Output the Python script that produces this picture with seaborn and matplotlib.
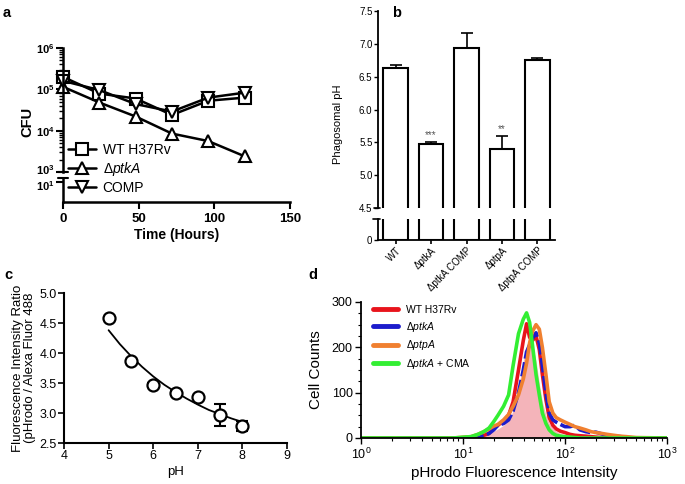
import matplotlib
matplotlib.use('Agg')
import matplotlib.pyplot as plt
import matplotlib.transforms as mtransforms
import seaborn as sns
import numpy as np
from matplotlib.ticker import LogLocator, MultipleLocator, NullFormatter, NullLocator

sns.set_theme(style='ticks')
plt.rcParams['font.family'] = ['Liberation Sans', 'DejaVu Sans']
plt.rcParams['mathtext.fontset'] = 'custom'
plt.rcParams['mathtext.rm'] = 'Liberation Sans'
plt.rcParams['mathtext.it'] = 'Liberation Sans:italic'
plt.rcParams['mathtext.bf'] = 'Liberation Sans:bold'
for k in ['text.color', 'axes.labelcolor', 'xtick.color', 'ytick.color', 'axes.edgecolor']:
    plt.rcParams[k] = 'black'

# ---- panel a: CFU over time
hours = [0, 24, 48, 72, 96, 120]
cfu_wt = [2.0e5, 7.9e4, 6.0e4, 2.4e4, 5.3e4, 6.3e4]
cfu_ptka = [1.15e5, 4.8e4, 2.2e4, 8.5e3, 5.6e3, 2.4e3]
cfu_comp = [1.6e5, 9.6e4, 4.4e4, 2.9e4, 6.3e4, 8.3e4]

# ---- panel b: phagosomal pH
strains = ['WT', 'ΔptkA', 'ΔptkA COMP', 'ΔptpA', 'ΔptpA COMP']
ph_mean = [6.63, 5.47, 6.93, 5.40, 6.75]
ph_sem = [0.05, 0.03, 0.23, 0.20, 0.03]

# ---- panel c: calibration points and fitted curve
ph_std = [5, 5.5, 6, 6.5, 7, 7.5, 8]
ratio = [4.58, 3.87, 3.47, 3.33, 3.26, 2.97, 2.78]
ratio_err = [0.02, 0.02, 0.03, 0.03, 0.03, 0.18, 0.08]
fit_ph = [5, 5.25, 5.5, 5.75, 6, 6.25, 6.5, 6.75, 7, 7.25, 7.5, 7.75, 8]
fit_ratio = [4.38, 4.15, 3.95, 3.77, 3.61, 3.47, 3.35, 3.24, 3.14, 3.05, 2.98, 2.91, 2.85]

# ---- panel d: flow histograms
intensity = [1, 8, 12, 14, 16, 18, 20, 22, 25, 28,
             31, 35, 39, 42, 45, 48, 52, 56, 60, 65,
             70, 76, 82, 90, 100, 112, 125, 140, 160, 180,
             200, 230, 260, 300, 350, 400, 500, 1000]
cnt_wt = [0, 0, 1, 3, 6, 10, 22, 28, 38, 50,
          80, 150, 215, 252, 222, 215, 225, 195, 140, 85,
          45, 28, 20, 15, 12, 8, 6, 5, 4, 3,
          2, 1, 1, 0, 0, 0, 0, 0]
cnt_ptka = [0, 0, 0, 2, 5, 10, 18, 28, 32, 40,
            60, 100, 150, 190, 205, 220, 232, 210, 160, 100,
            55, 40, 35, 30, 25, 25, 28, 18, 14, 12,
            13, 9, 5, 4, 3, 1, 0, 0]
cnt_ptpa = [0, 0, 3, 8, 14, 20, 26, 30, 40, 52,
            70, 95, 130, 165, 210, 235, 250, 240, 200, 140,
            80, 55, 45, 40, 35, 30, 25, 22, 18, 14,
            12, 10, 8, 6, 4, 3, 1, 0]
cnt_cma = [0, 0, 3, 8, 14, 22, 36, 50, 70, 95,
           160, 230, 262, 276, 255, 205, 140, 95, 55, 32,
           18, 10, 6, 4, 3, 2, 1, 0, 0, 0,
           0, 0, 0, 0, 0, 0, 0, 0]
cnt_fill = [0, 0, 0, 3, 6, 10, 15, 20, 28, 40,
            60, 110, 170, 205, 220, 205, 170, 120, 80, 50,
            32, 22, 15, 10, 7, 5, 3, 2, 1, 0,
            0, 0, 0, 0, 0, 0, 0, 0]

W, H = 685, 484
fig = plt.figure(figsize=(W / 100, H / 100), dpi=100)


def box(l, t, r, b):
    return [l / W, 1 - b / H, (r - l) / W, (b - t) / H]


def nudge(label, dy_px):
    label.set_transform(label.get_transform() +
                        mtransforms.ScaledTranslation(0, dy_px / 100, fig.dpi_scale_trans))


# ================= panel a =================
ax_a = fig.add_axes(box(63, 48, 290, 172))
ax_a2 = fig.add_axes(box(63, 178, 290, 202))
for y, mk, lab in [(cfu_wt, 's', 'WT H37Rv'),
                   (cfu_ptka, '^', r'Δ$\mathit{ptkA}$'),
                   (cfu_comp, 'v', 'COMP')]:
    sns.lineplot(x=hours, y=y, ax=ax_a, color='black', lw=1.8, marker=mk,
                 markersize=8, markerfacecolor='white', markeredgecolor='black',
                 markeredgewidth=1.5, label=lab, clip_on=False)
handles, labels = ax_a.get_legend_handles_labels()
ax_a.get_legend().remove()

ax_a.set_yscale('log')
ax_a.set_ylim(1e3, 1e6)
ax_a.set_xlim(0, 150)
ax_a.set_yticks([1e3, 1e4, 1e5, 1e6])
ax_a.set_yticklabels([r'$\mathbf{10^{3}}$', r'$\mathbf{10^{4}}$',
                      r'$\mathbf{10^{5}}$', r'$\mathbf{10^{6}}$'], fontsize=8)
ax_a.yaxis.set_minor_locator(LogLocator(base=10, subs=np.arange(2, 10)))
ax_a.yaxis.set_minor_formatter(NullFormatter())
for s in ['top', 'right', 'bottom']:
    ax_a.spines[s].set_visible(False)
ax_a.spines['left'].set_linewidth(1.8)
ax_a.tick_params(axis='x', bottom=False, labelbottom=False)
ax_a.tick_params(axis='y', which='major', width=1.5, length=5, pad=1)
ax_a.tick_params(axis='y', which='minor', width=1, length=3)
ax_a.set_xlabel('')
ax_a.plot([-0.02, 0.02], [0, 0], transform=ax_a.transAxes, color='black',
          lw=1.5, clip_on=False)
nudge(ax_a.get_yticklabels()[0], 3)

ax_a2.set_yscale('log')
ax_a2.set_ylim(1, 16)
ax_a2.set_yticks([10])
ax_a2.set_yticklabels([r'$\mathbf{10^{1}}$'], fontsize=8)
ax_a2.yaxis.set_minor_locator(NullLocator())
ax_a2.set_xlim(0, 150)
ax_a2.set_xticks([0, 50, 100, 150])
ax_a2.set_xticklabels(['0', '50', '100', '150'], fontsize=9.5, fontweight='bold')
for s in ['top', 'right']:
    ax_a2.spines[s].set_visible(False)
ax_a2.spines['left'].set_linewidth(1.8)
ax_a2.spines['bottom'].set_linewidth(1.8)
ax_a2.tick_params(width=1.5, length=5, pad=1)
ax_a2.tick_params(axis='x', pad=3)
ax_a2.plot([-0.02, 0.02], [1, 1], transform=ax_a2.transAxes, color='black',
           lw=1.5, clip_on=False)
nudge(ax_a2.get_yticklabels()[0], -3)
ax_a2.set_xlabel('Time (Hours)', fontsize=10, fontweight='bold', labelpad=2)
ax_a2.patch.set_alpha(0)
fig.text(27 / W, 1 - 122 / H, 'CFU', rotation=90, fontsize=10.5,
         fontweight='bold', ha='center', va='center')
fig.legend(handles, labels, loc='upper left', bbox_to_anchor=(68 / W, 1 - 143 / H),
           frameon=False, fontsize=10, handlelength=2.0, handletextpad=0.5,
           labelspacing=0.2, borderpad=0, borderaxespad=0)

# ================= panel b =================
ax_b = fig.add_axes(box(378, 11, 555, 208))
ax_b2 = fig.add_axes(box(378, 219, 555, 240))
for ax in (ax_b, ax_b2):
    sns.barplot(x=strains, y=ph_mean, ax=ax, color='white', saturation=1,
                edgecolor='black', linewidth=1.5, width=0.7, errorbar=None)
    ax.set_xlim(-0.5, 4.5)
    for s in ['top', 'right']:
        ax.spines[s].set_visible(False)
    ax.spines['left'].set_linewidth(1.3)
    ax.spines['bottom'].set_linewidth(1.3)
    ax.set_ylabel('')
ax_b.errorbar(range(len(strains)), ph_mean, yerr=[np.zeros(len(ph_sem)), ph_sem],
              fmt='none', ecolor='black', elinewidth=1.2, capsize=4, capthick=1.2)
ax_b.set_ylim(4.5, 7.5)
ax_b.set_yticks([4.5, 5.0, 5.5, 6.0, 6.5, 7.0, 7.5])
ax_b.set_yticklabels(['4.5', '5.0', '5.5', '6.0', '6.5', '7.0', '7.5'], fontsize=7)
ax_b.spines['bottom'].set_visible(False)
ax_b.tick_params(axis='x', bottom=False, labelbottom=False)
ax_b.tick_params(axis='y', length=3, width=1, pad=1)
ax_b.plot([-0.02, 0.01], [0, 0], transform=ax_b.transAxes, color='black',
          lw=1.2, clip_on=False)
ax_b.text(1, ph_mean[1] + ph_sem[1] + 0.03, '***', ha='center', va='bottom',
          fontsize=7, color='#555555')
ax_b.text(3, ph_mean[3] + ph_sem[3] + 0.03, '**', ha='center', va='bottom',
          fontsize=7, color='#555555')

ax_b2.set_ylim(0, 1)
ax_b2.set_yticks([0])
ax_b2.set_yticklabels(['0'], fontsize=7)
ax_b2.tick_params(axis='y', length=3, width=1, pad=1)
ax_b2.tick_params(axis='x', length=3, width=1.2, pad=1)
ax_b2.set_xticks(range(len(strains)))
ax_b2.set_xticklabels(strains, rotation=45, ha='right', rotation_mode='anchor',
                      fontsize=7)
ax_b2.plot([-0.03, 0.01], [1, 1], transform=ax_b2.transAxes, color='black',
           lw=1.2, clip_on=False)
fig.text(338 / W, 1 - 124 / H, 'Phagosomal pH', rotation=90, fontsize=8,
         ha='center', va='center')

# ================= panel c =================
ax_c = fig.add_axes(box(64, 293, 287, 443))
sns.lineplot(x=fit_ph, y=fit_ratio, ax=ax_c, color='black', lw=1.3)
ax_c.errorbar(ph_std, ratio, yerr=ratio_err, fmt='none', ecolor='black',
              elinewidth=1.5, capsize=4, capthick=1.5)
sns.scatterplot(x=ph_std, y=ratio, ax=ax_c, marker='o', s=75, facecolor='white',
                edgecolor='black', linewidth=1.6, zorder=3)
ax_c.set_xlim(4, 9)
ax_c.set_ylim(2.5, 5.0)
ax_c.set_xticks([4, 5, 6, 7, 8, 9])
ax_c.set_yticks([2.5, 3.0, 3.5, 4.0, 4.5, 5.0])
ax_c.set_yticklabels(['2.5', '3.0', '3.5', '4.0', '4.5', '5.0'])
ax_c.tick_params(labelsize=9, length=4, width=1.2, pad=1)
for s in ['top', 'right']:
    ax_c.spines[s].set_visible(False)
ax_c.spines['left'].set_linewidth(1.5)
ax_c.spines['bottom'].set_linewidth(1.5)
ax_c.set_xlabel('pH', fontsize=9.5, labelpad=3)
ax_c.set_ylabel('Fluorescence Intensity Ratio\n(pHrodo / Alexa Fluor 488',
                fontsize=9.5, labelpad=3, linespacing=0.95)

# ================= panel d =================
ax_d = fig.add_axes(box(361, 302, 667, 438))
ax_d.fill_between(intensity, cnt_fill, color='#f4b4ba', lw=0)
for y, c, lab, ls in [(cnt_wt, '#e8141c', 'WT H37Rv', '-'),
                      (cnt_ptka, '#1c1ccc', r'Δ$\mathit{ptkA}$', (0, (4, 1))),
                      (cnt_ptpa, '#f08030', r'Δ$\mathit{ptpA}$', '-'),
                      (cnt_cma, '#33ee33', r'Δ$\mathit{ptkA}$ + CMA', '-')]:
    sns.lineplot(x=intensity, y=y, ax=ax_d, color=c, lw=2.6, linestyle=ls,
                 label=lab)
ax_d.legend(loc='upper left', bbox_to_anchor=(373 / W, 1 - 305 / H),
            bbox_transform=fig.transFigure, frameon=False, fontsize=7.5,
            handlelength=2.4, handletextpad=0.8, labelspacing=0.45,
            borderpad=0, borderaxespad=0)
for line in ax_d.get_legend().get_lines():
    line.set_linewidth(3.5)
    line.set_linestyle('-')
ax_d.set_xscale('log')
ax_d.set_xlim(1, 1000)
ax_d.set_ylim(0, 300)
ax_d.set_yticks([0, 100, 200, 300])
ax_d.yaxis.set_minor_locator(MultipleLocator(25))
ax_d.xaxis.set_minor_locator(LogLocator(base=10, subs=np.arange(2, 10)))
ax_d.xaxis.set_minor_formatter(NullFormatter())
ax_d.tick_params(labelsize=9, length=4, width=1, pad=2)
ax_d.tick_params(which='minor', length=2, width=0.8)
for s in ['top', 'right']:
    ax_d.spines[s].set_visible(False)
ax_d.spines['left'].set_linewidth(1.3)
ax_d.spines['bottom'].set_linewidth(1.3)
ax_d.set_xlabel('pHrodo Fluorescence Intensity', fontsize=11, labelpad=3)
ax_d.set_ylabel('Cell Counts', fontsize=11, labelpad=6)

# panel letters
for lbl, x, y in [('a', 7, 13), ('b', 397, 13), ('c', 8, 275), ('d', 313, 275)]:
    fig.text(x / W, 1 - y / H, lbl, fontsize=10.5, fontweight='bold',
             ha='center', va='center')

fig.savefig('out.png', dpi=100)
